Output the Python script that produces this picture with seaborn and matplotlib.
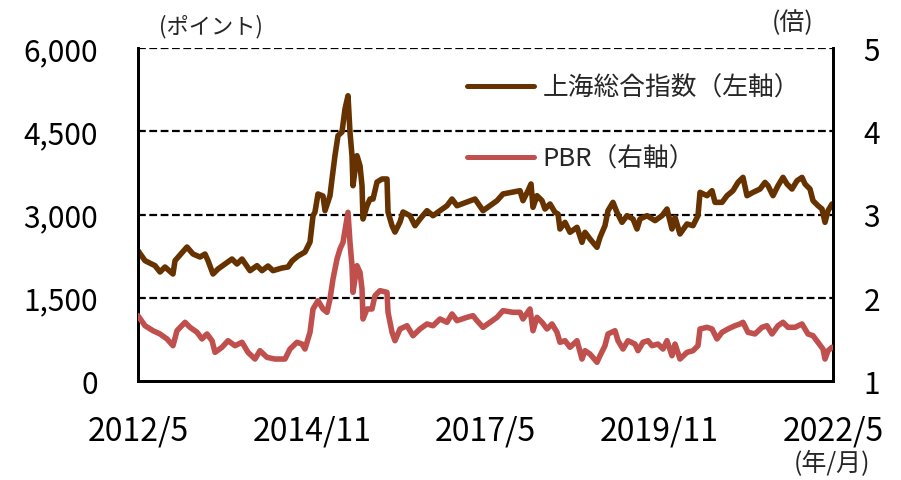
import matplotlib
matplotlib.use("Agg")
import matplotlib.pyplot as plt
import seaborn as sns
import pandas as pd

# ---- data (x = months since 2012/5) ----
sh_month = [0, 1.21, 2.94, 3.80, 4.66, 6.04, 6.39, 8.46, 9.50, 10.71, 11.57, 12.09, 12.95,
            13.81, 15.02, 16.23, 17.09, 17.96, 19.34, 20.55, 21.41, 22.45, 23.31, 24.86,
            25.90, 26.59, 27.63, 28.83, 29.35, 29.70, 30.22, 30.56, 31.08, 31.94, 32.29,
            33.15, 33.50, 34.01, 34.53, 35.22, 35.74, 36.26, 36.60, 36.95, 37.12, 37.81,
            38.33, 38.68, 38.85, 39.54, 40.06, 40.58, 41.27, 42.13, 42.99, 43.17, 43.86,
            44.37, 45.24, 45.76, 46.96, 47.83, 48.69, 49.90, 50.94, 52.14, 53.35, 54.22,
            55.08, 56.81, 58.19, 59.05, 59.57, 60.78, 61.99, 63.02, 64.75, 65.96, 66.47,
            67.34, 67.86, 68.20, 68.89, 69.76, 70.27, 71.14, 72.00, 72.52, 72.86, 73.73,
            74.59, 75.80, 76.66, 77.18, 78.04, 79.25, 79.77, 80.63, 81.15, 82.01, 82.70,
            83.57, 84.43, 85.47, 86.16, 86.68, 87.89, 89.27, 90.48, 91.34, 92.20, 92.72,
            93.58, 94.79, 95.83, 96.69, 97.04, 98.25, 99.11, 99.63, 100.84, 101.70,
            102.73, 103.60, 104.46, 105.15, 106.19, 107.40, 108.26, 108.78, 109.64,
            110.50, 111.37, 112.06, 112.92, 113.79, 114.65, 115.17, 116.03, 116.55,
            117.41, 118.10, 118.62, 119.14, 119.83]
sh_index = [2348, 2168, 2078, 1964, 2054, 1928, 2168, 2414, 2288, 2234, 2288, 2168, 1928,
            2018, 2108, 2198, 2108, 2198, 1988, 2078, 1988, 2072, 1988, 2036,
            2054, 2162, 2252, 2324, 2432, 2504, 2978, 3045, 3370, 3333, 3069,
            3339, 3640, 4060, 4420, 4486, 4900, 5140, 4486, 4060, 3519, 4060,
            3880, 3519, 2919, 3158, 3279, 3279, 3585, 3640, 3640, 3045, 2798,
            2683, 2865, 3045, 2978, 2798, 2919, 3069, 2978, 3069, 3158, 3279,
            3158, 3225, 3279, 3150, 3069, 3158, 3249, 3370, 3405, 3429, 3249,
            3429, 3550, 3129, 3339, 3249, 3099, 3189, 3039, 3009, 2739, 2859,
            2679, 2769, 2499, 2679, 2559, 2409, 2589, 2799, 3069, 3219, 3039,
            2859, 2979, 2919, 2739, 2919, 2979, 2889, 2979, 3099, 2739, 2949,
            2649, 2829, 2799, 2979, 3399, 3339, 3429, 3219, 3219, 3339,
            3429, 3579, 3669, 3339, 3399, 3459, 3579, 3519, 3339,
            3519, 3669, 3549, 3459, 3609, 3669, 3549, 3459, 3249,
            3159, 3099, 2859, 3069, 3189]

pbr_month = [0, 1.21, 2.59, 3.80, 5.01, 6.04, 6.73, 8.12, 8.98, 10.19, 11.05, 11.91, 12.78,
             13.30, 14.50, 15.54, 16.75, 17.96, 18.99, 20.20, 21.06, 22.27, 23.65, 25.38,
             26.24, 27.45, 28.32, 28.83, 29.35, 29.70, 30.22, 31.08, 31.94, 32.63, 33.15,
             33.67, 34.36, 34.88, 35.40, 36.26, 36.60, 36.95, 37.12, 37.81, 38.33, 38.68,
             38.85, 39.54, 40.40, 40.92, 41.78, 42.99, 43.17, 43.86, 44.37, 45.24, 46.45,
             47.48, 48.69, 49.90, 50.94, 52.14, 53.35, 54.22, 55.08, 56.81, 57.84, 58.53,
             59.57, 60.78, 61.99, 63.02, 64.75, 65.96, 66.47, 67.68, 68.20, 68.89, 69.76,
             70.62, 71.48, 72.35, 72.86, 73.73, 74.59, 75.80, 76.66, 77.18, 78.04, 79.25,
             79.77, 80.63, 81.15, 82.36, 82.88, 83.74, 84.60, 85.81, 86.33, 87.19, 88.06,
             88.75, 89.78, 90.65, 91.34, 92.20, 92.72, 93.58, 94.79, 95.83, 96.69, 97.04,
             98.25, 99.11, 99.97, 100.84, 101.87, 103.08, 103.94, 104.46, 105.32, 106.53,
             107.74, 108.60, 109.47, 110.50, 111.37, 112.23, 113.44, 114.65, 115.17,
             115.68, 116.55, 117.41, 118.27, 118.62, 119.14, 119.83]
pbr = [1.784, 1.664, 1.604, 1.565, 1.505, 1.424, 1.604, 1.705, 1.645, 1.585, 1.505, 1.565, 1.484,
       1.344, 1.405, 1.484, 1.424, 1.465, 1.344, 1.264, 1.364, 1.284, 1.264, 1.264,
       1.384, 1.465, 1.444, 1.384, 1.505, 1.585, 1.865, 1.965, 1.865, 1.825, 1.985,
       2.225, 2.465, 2.586, 2.666, 3.026, 2.666, 2.385, 2.065, 2.385, 2.305, 2.105,
       1.745, 1.865, 1.865, 2.025, 2.085, 2.065, 1.825, 1.585, 1.484, 1.625, 1.664,
       1.544, 1.625, 1.685, 1.664, 1.745, 1.705, 1.805, 1.725, 1.765, 1.785, 1.725,
       1.645, 1.705, 1.765, 1.845, 1.825, 1.825, 1.745, 1.865, 1.604, 1.765, 1.705,
       1.625, 1.685, 1.585, 1.465, 1.484, 1.405, 1.484, 1.264, 1.364, 1.324, 1.225,
       1.304, 1.424, 1.565, 1.604, 1.484, 1.384, 1.484, 1.444, 1.364, 1.465, 1.484,
       1.424, 1.444, 1.384, 1.484, 1.304, 1.444, 1.264, 1.344, 1.364, 1.424, 1.625,
       1.645, 1.625, 1.505, 1.585, 1.625, 1.664, 1.685, 1.705, 1.585, 1.565,
       1.645, 1.664, 1.565, 1.664, 1.705, 1.645, 1.645, 1.685, 1.625,
       1.565, 1.544, 1.465, 1.384, 1.264, 1.364, 1.405]

x_ticks = [0, 30, 60, 90, 120]
x_labels = ["2012/5", "2014/11", "2017/5", "2019/11", "2022/5"]
left_ticks = [0, 1500, 3000, 4500, 6000]
right_ticks = [1, 2, 3, 4, 5]

label_sh = "上海総合指数（左軸）"
label_pbr = "PBR（右軸）"

# ---- style ----
sns.set_style("white")
plt.rcParams["font.family"] = ["Noto Sans CJK JP", "DejaVu Sans"]

W, H = 901, 481
fig = plt.figure(figsize=(W / 100, H / 100), dpi=100)
L, R, B, T = 138, 833, 382, 49
ax = fig.add_axes([L / W, 1 - B / H, (R - L) / W, (B - T) / H])
ax2 = ax.twinx()

brown = "#663300"
red = "#C0504D"

df_sh = pd.DataFrame({"month": sh_month, "value": sh_index})
df_pbr = pd.DataFrame({"month": pbr_month, "value": pbr})

sns.lineplot(data=df_sh, x="month", y="value", ax=ax, color=brown, lw=4.0,
             label=label_sh, legend=False, zorder=3)
sns.lineplot(data=df_pbr, x="month", y="value", ax=ax2, color=red, lw=4.0,
             label=label_pbr, legend=False, zorder=3)

ax.set_xlim(0, 120)
ax.set_ylim(0, 6000)
ax2.set_ylim(1, 5)
ax.set_xticks(x_ticks)
ax.set_xticklabels(x_labels)
ax.set_yticks(left_ticks)
ax.set_yticklabels([f"{v:,}" for v in left_ticks])
ax2.set_yticks(right_ticks)
ax2.set_yticklabels([str(v) for v in right_ticks])
ax.set_xlabel("")
ax.set_ylabel("")
ax2.set_ylabel("")

for v in left_ticks[1:]:
    ax.axhline(v, color="black", lw=1.6, ls=(0, (3.5, 1.6)), zorder=1)

for a in (ax, ax2):
    a.spines["top"].set_visible(False)
    for s in ("left", "right", "bottom"):
        a.spines[s].set_color("black")
        a.spines[s].set_linewidth(2.0)

ax.tick_params(axis="y", length=0, pad=29, labelsize=21.5, colors="black")
ax.tick_params(axis="x", length=0, pad=24, labelsize=23, colors="black")
ax2.tick_params(axis="y", length=0, pad=22, labelsize=21.5, colors="black")

h1, l1 = ax.get_legend_handles_labels()
h2, l2 = ax2.get_legend_handles_labels()
leg = ax2.legend(h1 + h2, l1 + l2, loc="upper left",
                 bbox_to_anchor=(467 / W, 1 - 76 / H), bbox_transform=fig.transFigure,
                 frameon=False, fontsize=18.5, handlelength=2.6, handletextpad=0.35,
                 labelspacing=1.75, borderpad=0, borderaxespad=0)
for lh in leg.get_lines():
    lh.set_linewidth(3.6)
    lh.set_solid_capstyle("round")

fig.text(211 / W, 1 - 27 / H, "(ポイント)", ha="center", va="center", fontsize=16)
fig.text(793 / W, 1 - 23 / H, "(倍)", ha="center", va="center", fontsize=18)
fig.text(832 / W, 1 - 464 / H, "(年/月)", ha="center", va="center", fontsize=18)

fig.savefig("out.png", dpi=100)
